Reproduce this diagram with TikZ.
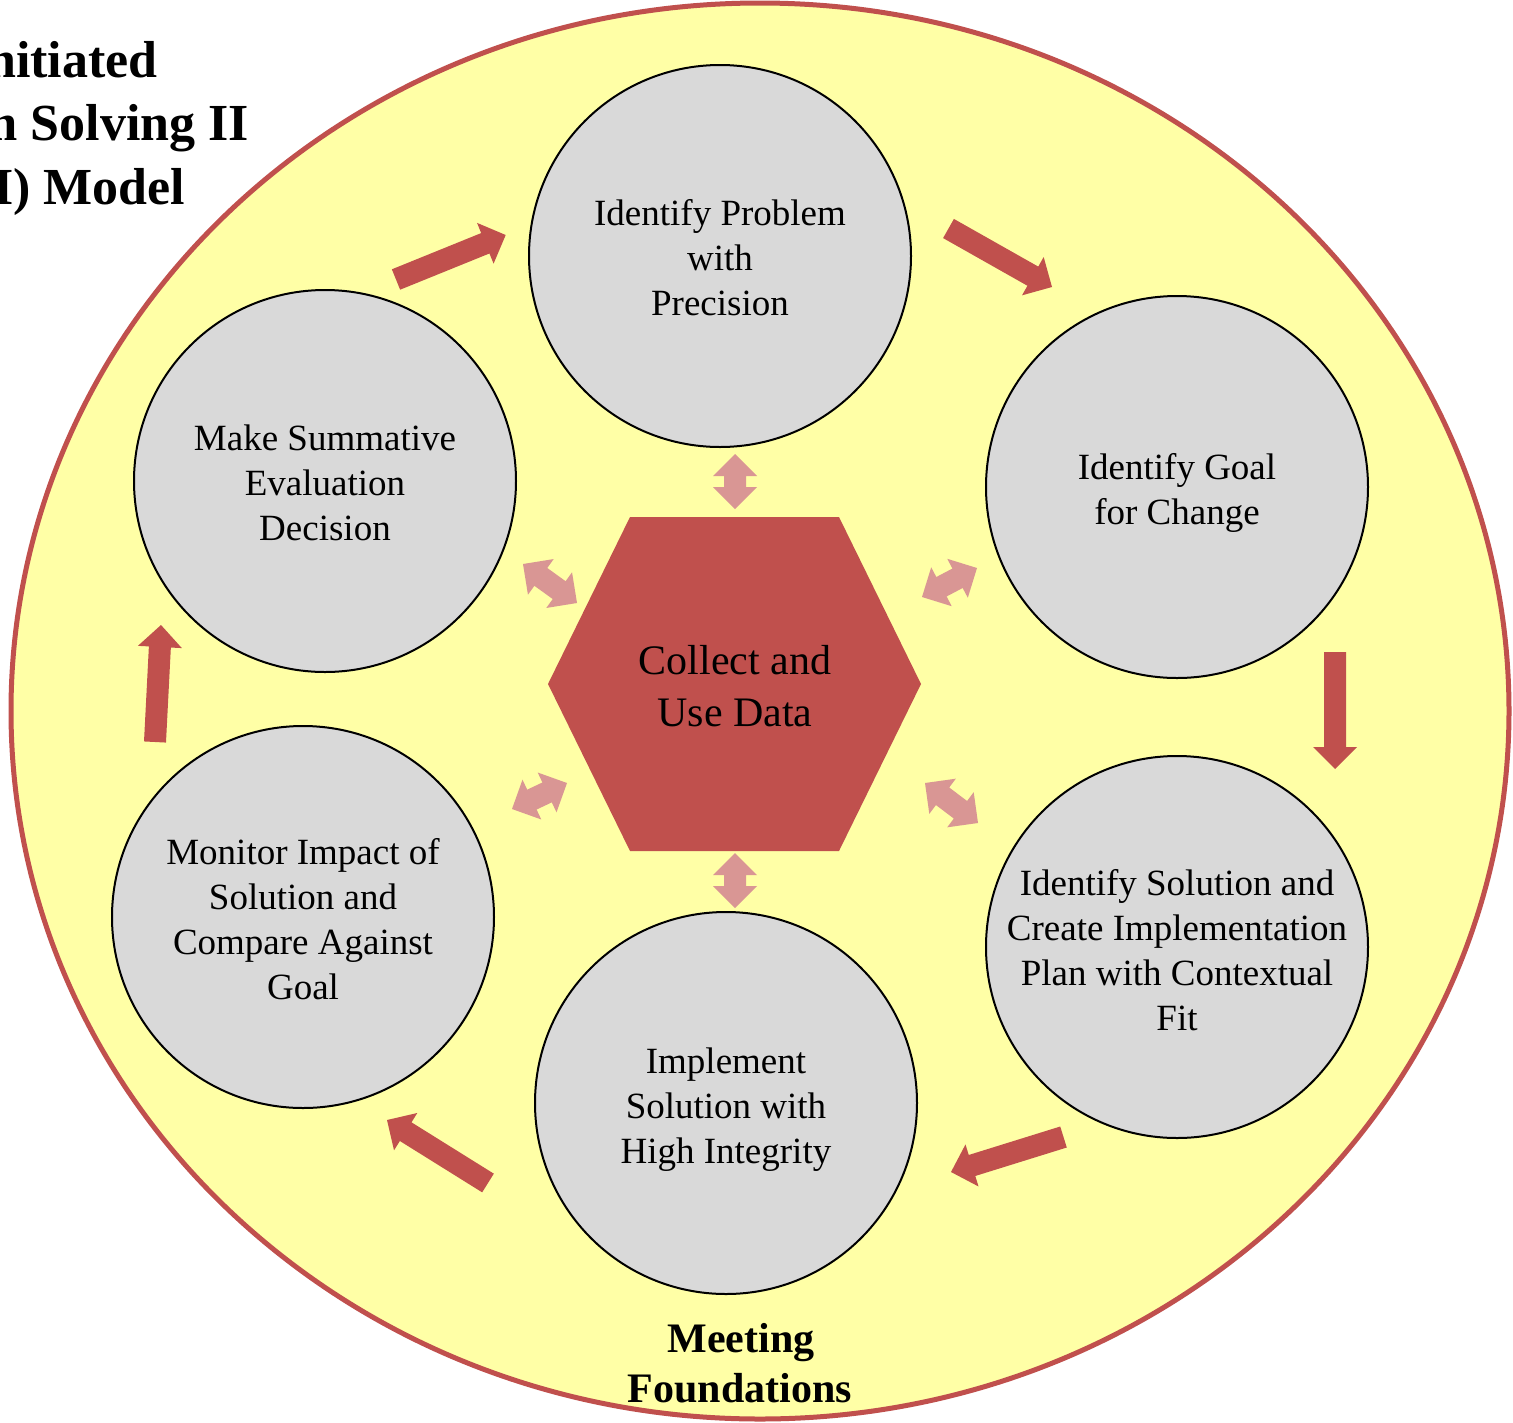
\documentclass[tikz,border=0pt]{standalone}
\usepackage{fontspec}
\setmainfont{Liberation Serif}
\usetikzlibrary{calc}

\definecolor{ringred}{HTML}{C0504D}
\definecolor{linkpink}{HTML}{D99694}
\definecolor{paleyellow}{HTML}{FFFFA6}
\definecolor{stagegray}{HTML}{D9D9D9}

\tikzset{
  stage/.style={circle, draw=black, line width=2pt, fill=stagegray,
    minimum size=382pt, inner sep=0pt},
  stagetext/.style={align=center, inner sep=0pt,
    font=\fontsize{37}{45}\selectfont},
  ring/.style={draw=ringred, line width=5pt, fill=paleyellow},
  hubshape/.style={fill=ringred},
  hubtext/.style={align=center, inner sep=0pt, font=\fontsize{42}{52}\selectfont},
  cyclefill/.style={fill=ringred},
  linkfill/.style={fill=linkpink},
  footline/.style={font=\bfseries\fontsize{42}{50}\selectfont, inner sep=0pt, anchor=base},
  titleline/.style={font=\bfseries\fontsize{52}{63}\selectfont, inner sep=0pt, anchor=base west},
}

% single-headed block arrow from tail #1 to tip #2
\newcommand\cyclearrow[2]{%
  \coordinate (hbase) at ($(#2)!22pt!(#1)$);
  \fill[cyclefill] ($(#1)!11pt!90:(#2)$) -- ($(hbase)!11pt!90:(#2)$)
    -- ($(hbase)!22pt!90:(#2)$) -- (#2) -- ($(hbase)!22pt!-90:(#2)$)
    -- ($(hbase)!11pt!-90:(#2)$) -- ($(#1)!11pt!-90:(#2)$) -- cycle;}

% double-headed block arrow between #1 and #2
\newcommand\linkarrow[2]{%
  \coordinate (hbone) at ($(#2)!22pt!(#1)$);
  \coordinate (hbtwo) at ($(#1)!22pt!(#2)$);
  \fill[linkfill] (#1) -- ($(hbtwo)!22pt!90:(#2)$) -- ($(hbtwo)!11pt!90:(#2)$)
    -- ($(hbone)!11pt!90:(#2)$) -- ($(hbone)!22pt!90:(#2)$) -- (#2)
    -- ($(hbone)!22pt!-90:(#2)$) -- ($(hbone)!11pt!-90:(#2)$)
    -- ($(hbtwo)!11pt!-90:(#2)$) -- ($(hbtwo)!22pt!-90:(#2)$) -- cycle;}

\begin{document}
\begin{tikzpicture}[x=1pt, y=-1pt]
  \useasboundingbox (0,0) rectangle (1513,1422);
  \clip (0,0) rectangle (1513,1422);

  % title
  \node[titleline] (titleA) at (-173,77) {Team-Initiated};
  \node[titleline] (titleB) at (-172,140) {Problem Solving II};
  \node[titleline] (titleC) at (-173,204) {(TIPS II) Model};

  % outer ring
  \draw[ring] (760,711) ellipse [x radius=749pt, y radius=708pt];

  % central hexagon
  \fill[hubshape] (630,517) -- (839,517) -- (921,684) -- (839,851)
    -- (630,851) -- (548,684) -- cycle;
  \node[hubtext] (hub) at (735,686) {Collect and\\Use Data};

  % stages
  \node[stage] (problem) at (720,256) {};
  \node[stage] (goal) at (1177,487) {};
  \node[stage] (solution) at (1177,947) {};
  \node[stage] (implement) at (726,1103) {};
  \node[stage] (monitor) at (303,917) {};
  \node[stage] (evaluate) at (325,481) {};

  \node[stagetext] (problemtext) at ($(problem.center)+(0,2)$) {Identify Problem\\with\\Precision};
  \node[stagetext] (goaltext) at ($(goal.center)+(0,6)$) {Identify Goal\\for Change};
  \node[stagetext] (solutiontext) at ($(solution.center)+(0,3)$) {Identify Solution and\\Create Implementation\\Plan with Contextual\\Fit};
  \node[stagetext] (implementtext) at ($(implement.center)+(0,7)$) {Implement\\Solution with\\High Integrity};
  \node[stagetext] (monitortext) at ($(monitor.center)+(0,2)$) {Monitor Impact of\\Solution and\\Compare Against\\Goal};
  \node[stagetext] (evaluatetext) at ($(evaluate.center)+(0,2)$) {Make Summative\\Evaluation\\Decision};

  % cycle arrow ends
  \coordinate (cA) at (396,279.5);  \coordinate (cAt) at (505.7,235);
  \coordinate (cB) at (948.5,228.5); \coordinate (cBt) at (1052,287);
  \coordinate (cC) at (1335,652);   \coordinate (cCt) at (1335,769);
  \coordinate (cD) at (1063.5,1137); \coordinate (cDt) at (951,1172);
  \coordinate (cE) at (488,1183);   \coordinate (cEt) at (387,1120);
  \coordinate (cF) at (155,742);    \coordinate (cFt) at (161,625);
  \cyclearrow{cA}{cAt}
  \cyclearrow{cB}{cBt}
  \cyclearrow{cC}{cCt}
  \cyclearrow{cD}{cDt}
  \cyclearrow{cE}{cEt}
  \cyclearrow{cF}{cFt}

  % data link arrow ends
  \coordinate (lA) at (735,454);  \coordinate (lAt) at (735,509);
  \coordinate (lB) at (922,597);  \coordinate (lBt) at (977,568);
  \coordinate (lC) at (925,783);  \coordinate (lCt) at (978,823);
  \coordinate (lD) at (735,853);  \coordinate (lDt) at (735,908);
  \coordinate (lE) at (567,783);  \coordinate (lEt) at (512,809);
  \coordinate (lF) at (577,603);  \coordinate (lFt) at (523,564);
  \linkarrow{lA}{lAt}
  \linkarrow{lB}{lBt}
  \linkarrow{lC}{lCt}
  \linkarrow{lD}{lDt}
  \linkarrow{lE}{lEt}
  \linkarrow{lF}{lFt}

  % footer label
  \node[footline] (footA) at (741,1352) {Meeting};
  \node[footline] (footB) at (740,1402) {Foundations};
\end{tikzpicture}
\end{document}
